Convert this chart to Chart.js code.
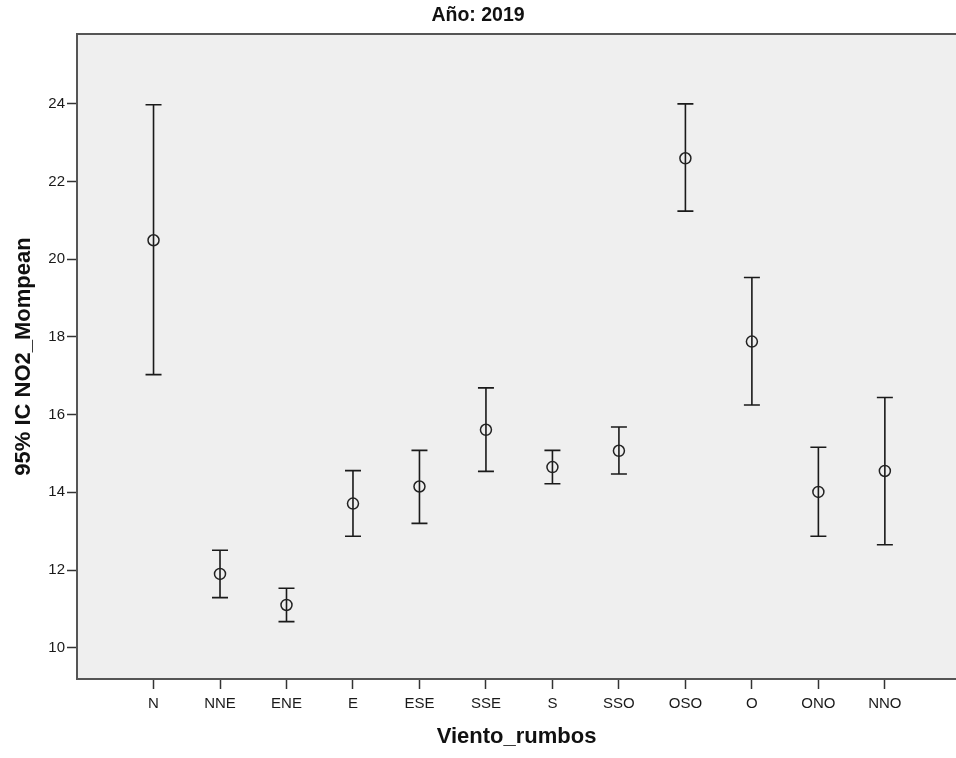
<!DOCTYPE html>
<html>
<head>
<meta charset="utf-8">
<script src="https://cdn.jsdelivr.net/npm/chart.js@4.4.1/dist/chart.umd.min.js"></script>
<style>
  html, body { margin: 0; padding: 0; background: #ffffff; overflow: hidden; }
  #wrap { width: 956px; height: 758px; }
</style>
</head>
<body>
<div id="wrap"><canvas id="c" width="956" height="758"></canvas></div>
<script>
const categories = ['N','NNE','ENE','E','ESE','SSE','S','SSO','OSO','O','ONO','NNO'];
const means = [20.49, 11.90, 11.10, 13.71, 14.15, 15.61, 14.65, 15.07, 22.60, 17.88, 14.01, 14.55];
const lower = [17.03, 11.29, 10.67, 12.87, 13.20, 14.54, 14.22, 14.47, 21.24, 16.25, 12.87, 12.65];
const upper = [23.98, 12.51, 11.53, 14.56, 15.08, 16.69, 15.08, 15.68, 24.00, 19.53, 15.16, 16.44];
const yTicks = [10, 12, 14, 16, 18, 20, 22, 24];

const FONT = "'Liberation Sans', Arial, sans-serif";

const plotFrame = {
  id: 'plotFrame',
  beforeDraw(chart) {
    const {ctx, chartArea: a} = chart;
    ctx.save();
    ctx.fillStyle = '#efefef';
    ctx.fillRect(a.left, a.top, a.right - a.left, a.bottom - a.top);
    ctx.restore();
  },
  afterDraw(chart) {
    const {ctx, chartArea: a} = chart;
    ctx.save();
    ctx.strokeStyle = '#555555';
    ctx.lineWidth = 2;
    ctx.beginPath();
    ctx.moveTo(a.right + 2, a.top);
    ctx.lineTo(a.left, a.top);
    ctx.lineTo(a.left, a.bottom);
    ctx.lineTo(a.right + 2, a.bottom);
    ctx.stroke();
    ctx.restore();
  }
};

const errorBars = {
  id: 'errorBars',
  beforeDatasetsDraw(chart) {
    const {ctx, scales: {x, y}} = chart;
    ctx.save();
    ctx.strokeStyle = '#1a1a1a';
    ctx.lineWidth = 1.6;
    const cap = 8;
    for (let i = 0; i < categories.length; i++) {
      const px = x.getPixelForValue(i);
      const pl = y.getPixelForValue(lower[i]);
      const pu = y.getPixelForValue(upper[i]);
      ctx.beginPath();
      ctx.moveTo(px, pl); ctx.lineTo(px, pu);
      ctx.moveTo(px - cap, pu); ctx.lineTo(px + cap, pu);
      ctx.moveTo(px - cap, pl); ctx.lineTo(px + cap, pl);
      ctx.stroke();
    }
    ctx.restore();
  }
};

new Chart(document.getElementById('c'), {
  type: 'scatter',
  data: {
    datasets: [{
      data: means.map((v, i) => ({x: i, y: v})),
      pointStyle: 'circle',
      pointRadius: 5.5,
      pointHoverRadius: 5.5,
      pointBorderWidth: 1.5,
      pointBorderColor: '#222222',
      pointBackgroundColor: 'rgba(0,0,0,0)',
      showLine: false
    }]
  },
  options: {
    responsive: false,
    animation: false,
    events: [],
    layout: { autoPadding: false, padding: { left: 0, right: 0, top: 0, bottom: 0 } },
    plugins: {
      legend: { display: false },
      tooltip: { enabled: false },
      title: {
        display: true,
        text: 'Año: 2019',
        color: '#111111',
        font: { family: FONT, size: 19.5, weight: 'bold', lineHeight: 1.2 },
        padding: { top: 4, bottom: 6.6 }
      }
    },
    scales: {
      x: {
        type: 'linear',
        min: -1.151,
        max: 12.07,
        afterBuildTicks(scale) { scale.ticks = categories.map((c, i) => ({value: i})); },
        afterFit(scale) { scale.height = 79; scale.paddingLeft = 0; scale.paddingRight = 0; },
        ticks: {
          autoSkip: false,
          maxRotation: 0,
          padding: 6,
          color: '#1a1a1a',
          font: { family: FONT, size: 15 },
          callback: (v) => categories[v]
        },
        grid: { drawOnChartArea: false, drawTicks: true, tickLength: 10, tickColor: '#333333', tickWidth: 1.5 },
        border: { display: false },
        title: {
          display: true,
          text: 'Viento_rumbos',
          color: '#111111',
          font: { family: FONT, size: 22, weight: 'bold', lineHeight: 1.2 },
          padding: { top: 0, bottom: 8 }
        }
      },
      y: {
        type: 'linear',
        min: 9.194,
        max: 25.80,
        afterBuildTicks(scale) { scale.ticks = yTicks.map(v => ({value: v})); },
        afterFit(scale) { scale.width = 77; scale.paddingTop = 0; scale.paddingBottom = 0; },
        ticks: {
          padding: 2,
          color: '#1a1a1a',
          font: { family: FONT, size: 15 },
          callback: (v) => String(v)
        },
        grid: { drawOnChartArea: false, drawTicks: true, tickLength: 10, tickColor: '#333333', tickWidth: 1.5 },
        border: { display: false },
        title: {
          display: true,
          text: '95% IC NO2_Mompean',
          color: '#111111',
          font: { family: FONT, size: 22, weight: 'bold', lineHeight: 1.2 },
          padding: { top: 10.3, bottom: 0 }
        }
      }
    }
  },
  plugins: [plotFrame, errorBars]
});
</script>
</body>
</html>
